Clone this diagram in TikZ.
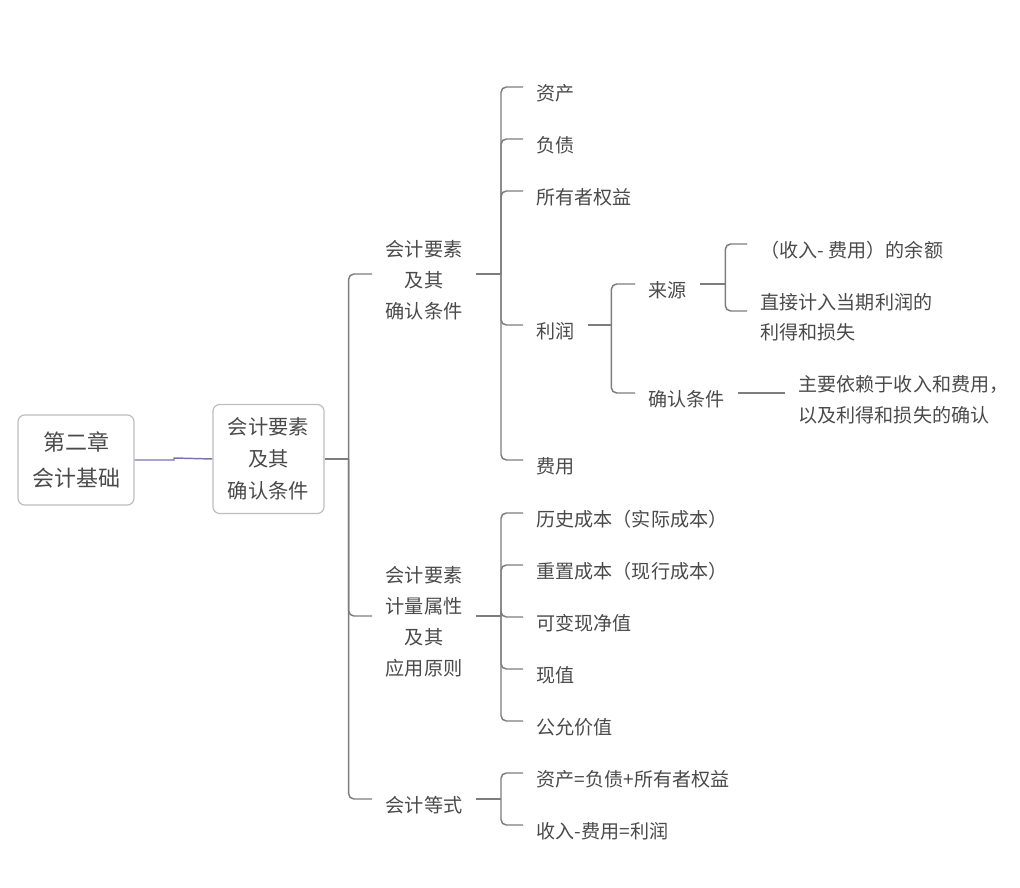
\documentclass[tikz,border=0pt]{standalone}
\usepackage{fontspec}
\setmainfont{Noto Sans CJK SC}
\usetikzlibrary{calc}
\definecolor{txt}{HTML}{4A4A4A}
\definecolor{ln}{HTML}{7D7D7D}
\definecolor{pur}{HTML}{7A72B5}
\definecolor{bx}{HTML}{BDBDBD}
\begin{document}
\begin{tikzpicture}[x=0.75pt,y=-0.75pt,
  lf/.style={anchor=west,inner xsep=10pt,inner ysep=0pt,text=txt,font=\fontsize{14.3pt}{22.8pt}\selectfont,align=left},
  lv/.style={anchor=west,inner xsep=10pt,inner ysep=0pt,text=txt,font=\fontsize{14.4pt}{23.3pt}\selectfont,align=center},
  conn/.style={draw=ln,line width=1.1pt,rounded corners=4pt},
  box/.style={draw=bx,line width=0.9pt,rounded corners=5pt,text=txt,align=center,inner sep=0pt}]
\useasboundingbox (0,0) rectangle (1020,888);
% root and second
\node[box,minimum width=87pt,minimum height=67.5pt,font=\fontsize{16.5pt}{27pt}\selectfont] (root) at (76,460) {第二章\\会计基础};
\node[box,minimum width=83.25pt,minimum height=81.75pt,font=\fontsize{15.2pt}{24pt}\selectfont] (sec) at (268.5,459) {会计要素\\及其\\确认条件};
\coordinate (rm) at (174,458);
\draw[pur,line width=1.1pt] (root.east) -| (rm) -- (sec.west);
% level 1
\node[lv] (A) at (372,280) {会计要素\\及其\\确认条件};
\node[lv] (B) at (372,622) {会计要素\\计量属性\\及其\\应用原则};
\node[lv] (C) at (372,805) {会计等式};
\coordinate (jr) at ($(sec.east)+(24,0)$);
\draw[conn] (sec.east) -- (jr);
\foreach \n in {A,B,C} \draw[conn] (jr) |- ([yshift=4.5pt]\n.west);
% A children
\node[lf] (a1) at (523,93) {资产};
\node[lf] (a2) at (523,145) {负债};
\node[lf] (a3) at (523,197) {所有者权益};
\node[lf] (a4) at (523,331) {利润};
\node[lf] (a5) at (523,466) {费用};
\coordinate (jA) at ($([yshift=4.5pt]A.east)+(25,0)$);
\draw[conn] ([yshift=4.5pt]A.east) -- (jA);
\foreach \n in {a1,a2,a3,a4,a5} \draw[conn] (jA) |- ([yshift=4.5pt]\n.west);
% profit children
\node[lf] (p1) at (635,290) {来源};
\node[lf] (p2) at (635,399) {确认条件};
\coordinate (jP) at ($([yshift=4.5pt]a4.east)+(23,0)$);
\draw[conn] ([yshift=4.5pt]a4.east) -- (jP);
\foreach \n in {p1,p2} \draw[conn] (jP) |- ([yshift=4.5pt]\n.west);
% source children
\node[lf] (s1) at (747,250) {（收入- 费用）的余额};
\node[lf] (s2) at (747,317) {直接计入当期利润的\\利得和损失};
\coordinate (jS) at ($([yshift=4.5pt]p1.east)+(25,0)$);
\draw[conn] ([yshift=4.5pt]p1.east) -- (jS);
\foreach \n in {s1,s2} \draw[conn] (jS) |- ([yshift=4.5pt]\n.west);
% recognition child
\node[lf] (q1) at (785,400) {主要依赖于收入和费用，\\以及利得和损失的确认};
\draw[conn] ([yshift=4.5pt]p2.east) -- ([yshift=4.5pt]p2.east -| q1.west);
% B children
\node[lf] (b1) at (523,519) {历史成本（实际成本）};
\node[lf] (b2) at (523,571) {重置成本（现行成本）};
\node[lf] (b3) at (523,623) {可变现净值};
\node[lf] (b4) at (523,675) {现值};
\node[lf] (b5) at (523,727) {公允价值};
\coordinate (jB) at ($([yshift=4.5pt]B.east)+(25,0)$);
\draw[conn] ([yshift=4.5pt]B.east) -- (jB);
\foreach \n in {b1,b2,b3,b4,b5} \draw[conn] (jB) |- ([yshift=4.5pt]\n.west);
% C children
\node[lf] (c1) at (523,779) {资产=负债+所有者权益};
\node[lf] (c2) at (523,831) {收入-费用=利润};
\coordinate (jC) at ($([yshift=4.5pt]C.east)+(25,0)$);
\draw[conn] ([yshift=4.5pt]C.east) -- (jC);
\foreach \n in {c1,c2} \draw[conn] (jC) |- ([yshift=4.5pt]\n.west);
\end{tikzpicture}
\end{document}
